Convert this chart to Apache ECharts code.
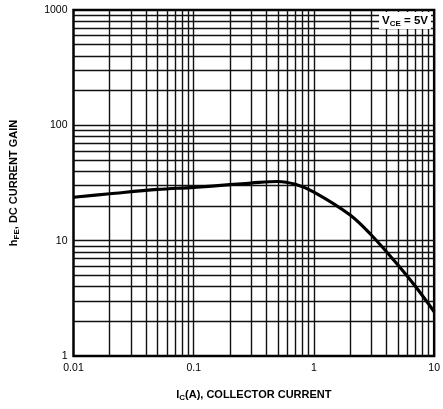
<!DOCTYPE html>
<html><head><meta charset="utf-8">
<script src="https://cdn.jsdelivr.net/npm/echarts@6/dist/echarts.min.js"></script>
<style>html,body{margin:0;padding:0;background:#fff}#c{width:443px;height:409px}</style>
</head><body><div id="c"></div>
<script>
const currentA = [0.01, 0.02, 0.05, 0.1, 0.2, 0.3, 0.5, 0.7, 1, 2, 3, 5, 7, 10];
const gainHFE = [23.8, 25.5, 27.8, 29, 30.6, 31.6, 32.6, 30.8, 26.4, 16.7, 11.2, 6.15, 4.0, 2.42];
const xTickLabels = [0.01, 0.1, 1, 10];
const yTickLabels = [1, 10, 100, 1000];
const xMinorGrid = [0.02,0.03,0.04,0.05,0.06,0.07,0.08,0.09,0.2,0.3,0.4,0.5,0.6,0.7,0.8,0.9,2,3,4,5,6,7,8,9];
const yMinorGrid = [2,3,4,5,6,7,8,9,20,30,40,50,60,70,80,90,200,300,400,500,600,700,800,900];

const chart = echarts.init(document.getElementById('c'));
const font = 'Liberation Sans, Arial, sans-serif';
const gridLines = [];
xMinorGrid.concat([0.1, 1]).forEach(v => gridLines.push({xAxis: v}));
yMinorGrid.concat([10, 100]).forEach(v => gridLines.push({yAxis: v}));
const richTitle = {
  m: {fontFamily: font, fontSize: 11, fontWeight: 'bold', color: '#000'},
  s: {fontFamily: font, fontSize: 8, fontWeight: 'bold', color: '#000', verticalAlign: 'bottom', padding: [6,0,0,0]}
};

chart.setOption({
  animation: false,
  grid: {left: 72, top: 10, right: 8, bottom: 53, show: true, borderColor: '#000', borderWidth: 2.5, backgroundColor: '#fff'},
  xAxis: {
    type: 'log', logBase: 10, min: 0.01, max: 10,
    axisLine: {show: false}, axisTick: {show: false}, splitLine: {show: false},
    axisLabel: {color: '#000', fontFamily: font, fontSize: 10.5, margin: 7,
      formatter: v => xTickLabels.some(t => Math.abs(t - v) / t < 1e-6) ? String(v) : ''},
    name: '{m|I}{s|C}{m|(A), COLLECTOR CURRENT}', nameLocation: 'middle', nameGap: 32,
    nameTextStyle: {rich: richTitle}
  },
  yAxis: {
    type: 'log', logBase: 10, min: 1, max: 1000,
    axisLine: {show: false}, axisTick: {show: false}, splitLine: {show: false},
    axisLabel: {color: '#000', fontFamily: font, fontSize: 10.5, margin: 6,
      formatter: v => yTickLabels.some(t => Math.abs(t - v) / t < 1e-6) ? String(v) : ''},
    name: '{m|h}{s|FE}{m|, DC CURRENT GAIN}', nameLocation: 'middle', nameGap: 53,
    nameTextStyle: {rich: richTitle}
  },
  series: [{
    type: 'line', data: currentA.map((x, i) => [x, gainHFE[i]]),
    smooth: 0.35, symbol: 'none', z: 5,
    lineStyle: {color: '#000', width: 3.2},
    markLine: {silent: true, symbol: ['none', 'none'], label: {show: false},
      lineStyle: {color: '#111', width: 1.4, type: 'solid'}, data: gridLines, z: 1}
  }],
  graphic: [{
    type: 'text', right: 12, top: 12, z: 100,
    style: {text: '{m|V}{s|CE}{m| = 5V}', backgroundColor: '#fff', padding: [2, 3, 1, 3],
      rich: {m: {fontFamily: font, fontSize: 11.5, fontWeight: 'bold', fill: '#000'},
             s: {fontFamily: font, fontSize: 8, fontWeight: 'bold', fill: '#000', verticalAlign: 'bottom', padding: [6,0,0,0]}}}
  }]
});
</script></body></html>
